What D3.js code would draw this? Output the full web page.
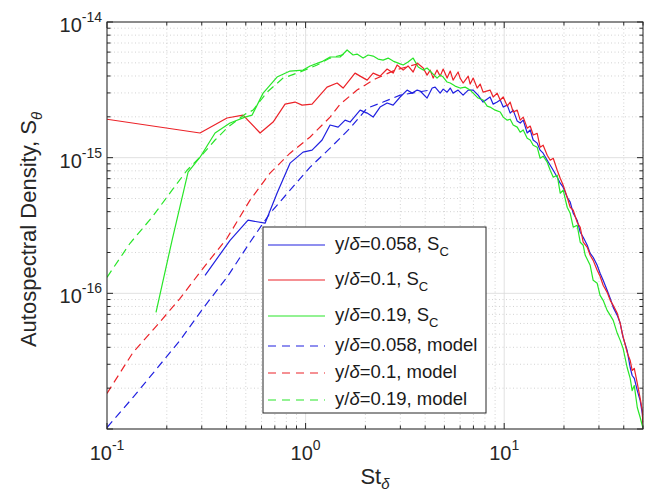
<!DOCTYPE html>
<html>
<head>
<meta charset="utf-8">
<script src="https://cdn.jsdelivr.net/npm/d3@7"></script>
<style>
  html, body { margin: 0; padding: 0; background: #fff; }
  svg { display: block; font-family: "Liberation Sans", Arial, sans-serif; }
</style>
</head>
<body>
<svg id="chart" width="652" height="493"></svg>
<script>
// Autospectral density vs Strouhal number, log-log.
// S values are stored in units of 1e-15.
const UNIT = 1e-15;

// measured spectra, y/delta = 0.058, 0.1, 0.19  [St, S]
const sc058 = [[0.3117,0.1358],[0.4165,0.246],[0.513,0.346],[0.625,0.329],[0.718,0.547],[0.835,0.911],[0.971,1.098],[1.078,1.136],[1.211,1.35],[1.328,1.74],[1.458,1.68],[1.581,1.89],[1.675,1.83],[1.882,2.24],[2.042,2.13],[2.188,1.99],[2.371,2.36],[2.574,2.53],[2.759,2.44],[2.993,2.80],[3.245,3.15],[3.44,2.99],[3.646,3.15],[3.775,3.10],[4.09,2.75],[4.34,3.26],[4.49,3.31],[4.76,2.99],[4.93,3.20],[5.16,3.04],[5.35,3.26],[5.53,2.99],[5.86,3.15],[6.21,2.89],[6.59,3.15],[6.98,3.15],[7.39,2.89],[7.83,2.57],[8.49,2.80],[8.80,2.48],[9.22,2.57],[9.55,2.66],[9.89,2.36],[10.36,2.44],[10.72,2.13],[11.1,2.24],[11.63,1.86],[12.04,1.80],[12.47,1.89],[13.06,1.52],[13.52,1.60],[14.0,1.35],[14.66,1.28],[15.17,1.136],[15.71,1.079],[16.47,0.958],[17.05,0.880],[17.66,0.808],[18.49,0.718],[19.15,0.648],[19.82,0.606],[20.76,0.511],[21.5,0.470],[22.27,0.389],[23.3,0.346],[24.15,0.282],[25.0,0.259],[26.2,0.226],[27.1,0.197],[28.06,0.1845],[29.4,0.161],[30.4,0.1406],[31.5,0.1248],[33.0,0.1052],[34.2,0.0918],[35.4,0.0788],[37.1,0.0688],[38.4,0.0601],[39.7,0.0473],[41.6,0.0380],[43.1,0.0284],[44.1,0.0248],[45.2,0.0236],[46.8,0.0192],[48.4,0.0162],[49.6,0.0130],[50.0,0.0110]];

const sc010 = [[0.1,1.92],[0.294,1.52],[0.402,1.96],[0.484,2.06],[0.59,1.52],[0.686,1.83],[0.788,2.48],[0.885,2.57],[0.96,2.44],[1.078,2.48],[1.282,3.31],[1.441,3.55],[1.545,3.26],[1.774,4.20],[1.882,3.99],[2.042,3.73],[2.188,4.20],[2.371,3.99],[2.574,4.50],[2.759,4.20],[2.89,4.82],[3.1,4.42],[3.28,4.74],[3.48,4.28],[3.646,4.98],[3.91,4.58],[4.09,4.06],[4.24,4.42],[4.39,3.86],[4.59,4.42],[4.76,3.99],[4.93,4.50],[5.16,3.86],[5.35,4.35],[5.53,3.73],[5.86,4.28],[6.0,3.86],[6.21,3.55],[6.59,3.99],[6.74,3.49],[6.98,3.86],[7.31,3.26],[7.57,3.49],[7.83,3.04],[8.49,3.15],[8.8,2.80],[9.22,2.99],[9.55,2.66],[9.89,2.80],[10.36,2.40],[10.72,2.57],[11.1,2.17],[11.63,2.24],[12.04,1.89],[12.47,1.99],[13.06,1.65],[13.52,1.71],[14.0,1.47],[14.66,1.51],[15.17,1.195],[15.71,1.236],[16.47,1.043],[17.05,0.958],[17.66,0.99],[18.49,0.808],[19.15,0.706],[19.82,0.627],[20.76,0.511],[21.5,0.431],[22.27,0.410],[23.3,0.334],[24.15,0.307],[25.0,0.238],[26.2,0.2185],[27.1,0.1907],[28.06,0.175],[29.4,0.148],[30.4,0.1335],[31.5,0.1146],[33.0,0.1017],[34.2,0.0888],[35.4,0.0815],[37.1,0.0712],[38.4,0.0601],[39.3,0.0507],[41.6,0.0367],[43.1,0.032],[44.1,0.027],[45.2,0.028],[46.8,0.0217],[48.4,0.0168],[49.6,0.0137],[50.0,0.0103]];

const sc019 = [[0.1765,0.0724],[0.2126,0.246],[0.256,0.781],[0.294,1.008],[0.350,1.52],[0.4165,1.80],[0.4955,1.99],[0.538,2.06],[0.611,2.99],[0.718,3.93],[0.835,4.35],[0.971,4.42],[1.054,4.74],[1.225,5.15],[1.328,5.52],[1.493,5.52],[1.618,6.22],[1.734,5.71],[1.816,5.80],[1.948,5.42],[2.065,5.71],[2.188,5.61],[2.318,5.33],[2.457,5.24],[2.604,5.42],[2.759,5.15],[2.925,4.98],[3.1,4.82],[3.28,5.07],[3.48,5.42],[3.69,4.66],[3.91,4.42],[4.09,4.58],[4.34,4.20],[4.59,3.86],[4.76,4.06],[4.93,3.93],[5.16,3.61],[5.35,3.55],[5.66,3.37],[6.0,3.26],[6.36,3.31],[6.74,3.15],[7.14,2.89],[7.39,2.75],[7.83,2.66],[8.21,2.40],[8.49,2.36],[9.01,2.24],[9.55,2.17],[9.89,1.99],[10.36,1.89],[10.72,1.92],[11.1,1.74],[11.63,1.68],[12.04,1.54],[12.47,1.60],[13.06,1.39],[13.52,1.35],[14.0,1.236],[14.66,1.195],[15.17,0.99],[15.71,1.026],[16.47,0.926],[17.05,0.808],[17.66,0.718],[18.49,0.743],[19.15,0.547],[19.82,0.576],[20.76,0.431],[21.5,0.389],[22.27,0.307],[23.3,0.318],[24.15,0.238],[25.0,0.226],[25.6,0.1907],[27.1,0.161],[28.06,0.1248],[29.4,0.1186],[30.4,0.0966],[31.5,0.0888],[33.0,0.0749],[34.2,0.0688],[35.4,0.0632],[37.1,0.0507],[38.4,0.045],[39.7,0.0393],[41.6,0.0284],[43.1,0.0236],[44.1,0.0192],[45.2,0.0209],[46.8,0.0144],[48.4,0.01216],[49.6,0.0106],[50.0,0.0101]];

// model spectra  [St, S]
const model058 = [[0.1,0.01026],[0.1352,0.0171],[0.1786,0.0280],[0.2333,0.045],[0.3045,0.0775],[0.402,0.1313],[0.525,0.238],[0.662,0.389],[0.835,0.576],[1.054,0.851],[1.328,1.175],[1.675,1.65],[2.042,2.32],[2.457,2.57],[2.993,2.89],[3.646,3.04],[4.24,3.15]];
const model010 = [[0.1,0.0183],[0.1352,0.0367],[0.1786,0.0581],[0.2333,0.0918],[0.3045,0.1529],[0.402,0.2547],[0.525,0.486],[0.662,0.769],[0.835,1.079],[1.054,1.42],[1.328,1.99],[1.493,2.48],[1.816,3.15],[2.239,3.80],[2.825,4.42],[3.646,4.90]];
const model019 = [[0.1,0.1313],[0.1306,0.234],[0.1686,0.364],[0.2126,0.576],[0.253,0.808],[0.294,1.008],[0.350,1.35],[0.407,1.68],[0.4955,2.09],[0.544,2.24],[0.640,3.04],[0.770,3.86],[0.938,4.28],[1.143,4.82],[1.328,5.42],[1.581,5.80]];

const seriesLabels = ['0.058', '0.1', '0.19'];
const seriesColors = ['#2020e0', '#ec2228', '#28e628'];

const box = { left: 107, top: 22, right: 643, bottom: 429 };

const svg = d3.select('#chart');

const x = d3.scaleLog().domain([0.1, 50]).range([box.left, box.right]);
const y = d3.scaleLog().domain([1e-17, 1e-14]).range([box.bottom, box.top]);

const isDecade = v => Math.abs(Math.log10(v) - Math.round(Math.log10(v))) < 1e-6;
const xTicks = x.ticks();
const yTicks = y.ticks();

// — grid ———————————————————————————————————
const grid = svg.append('g');
grid.selectAll('.gx').data(xTicks).join('line')
  .attr('x1', d => x(d)).attr('x2', d => x(d))
  .attr('y1', box.top).attr('y2', box.bottom)
  .attr('stroke', d => isDecade(d) ? '#d9d9d9' : '#c8c8c8')
  .attr('stroke-width', 0.8)
  .attr('stroke-dasharray', d => isDecade(d) ? null : '1,2.5');
grid.selectAll('.gy').data(yTicks).join('line')
  .attr('y1', d => y(d)).attr('y2', d => y(d))
  .attr('x1', box.left).attr('x2', box.right)
  .attr('stroke', d => isDecade(d) ? '#d9d9d9' : '#c8c8c8')
  .attr('stroke-width', 0.8)
  .attr('stroke-dasharray', d => isDecade(d) ? null : '1,2.5');

// — curves ——————————————————————————————————
svg.append('clipPath').attr('id', 'plotclip')
  .append('rect')
  .attr('x', box.left).attr('y', box.top)
  .attr('width', box.right - box.left).attr('height', box.bottom - box.top);

const line = d3.line()
  .x(d => x(d[0]))
  .y(d => y(d[1] * UNIT));

const curves = svg.append('g').attr('clip-path', 'url(#plotclip)');
[sc058, sc010, sc019].forEach((s, i) => {
  curves.append('path').datum(s)
    .attr('d', line)
    .attr('fill', 'none')
    .attr('stroke', seriesColors[i])
    .attr('stroke-width', 1.2)
    .attr('stroke-linejoin', 'round');
});
[model058, model010, model019].forEach((s, i) => {
  curves.append('path').datum(s)
    .attr('d', line)
    .attr('fill', 'none')
    .attr('stroke', seriesColors[i])
    .attr('stroke-width', 1.2)
    .attr('stroke-dasharray', '8,5');
});

// — ticks (inside, all four sides) ———————————————
const ticks = svg.append('g').attr('stroke', '#262626').attr('stroke-width', 1);
const tlen = d => isDecade(d) ? 6 : 3.5;
xTicks.forEach(d => {
  ticks.append('line').attr('x1', x(d)).attr('x2', x(d)).attr('y1', box.bottom).attr('y2', box.bottom - tlen(d));
  ticks.append('line').attr('x1', x(d)).attr('x2', x(d)).attr('y1', box.top).attr('y2', box.top + tlen(d));
});
yTicks.forEach(d => {
  ticks.append('line').attr('y1', y(d)).attr('y2', y(d)).attr('x1', box.left).attr('x2', box.left + tlen(d));
  ticks.append('line').attr('y1', y(d)).attr('y2', y(d)).attr('x1', box.right).attr('x2', box.right - tlen(d));
});

svg.append('rect')
  .attr('x', box.left).attr('y', box.top)
  .attr('width', box.right - box.left).attr('height', box.bottom - box.top)
  .attr('fill', 'none').attr('stroke', '#262626').attr('stroke-width', 1);

// — tick labels ————————————————————————————————
const xl = svg.append('g').attr('fill', '#262626');
xTicks.filter(isDecade).forEach(d => {
  const t = xl.append('text')
    .attr('x', x(d)).attr('y', box.bottom + 31)
    .attr('text-anchor', 'middle')
    .attr('font-size', 20);
  t.append('tspan').text('10');
  t.append('tspan').attr('dy', -10).attr('font-size', 14).text(Math.round(Math.log10(d)));
});
yTicks.filter(d => isDecade(d) && Math.round(Math.log10(d)) > -17).forEach(d => {
  const t = xl.append('text')
    .attr('x', box.left - 5).attr('y', y(d) + 10)
    .attr('text-anchor', 'end')
    .attr('font-size', 20);
  t.append('tspan').text('10');
  t.append('tspan').attr('dy', -10).attr('font-size', 14).text(Math.round(Math.log10(d)));
});

// — axis labels ————————————————————————————————
const xlab = svg.append('text')
  .attr('x', (box.left + box.right) / 2).attr('y', 484)
  .attr('text-anchor', 'middle').attr('font-size', 22).attr('fill', '#262626');
xlab.append('tspan').text('St');
xlab.append('tspan').attr('dy', 5).attr('font-size', 15).attr('font-style', 'italic').text('δ');

const ylab = svg.append('text')
  .attr('transform', `translate(36,${(box.top + box.bottom) / 2 + 4}) rotate(-90)`)
  .attr('text-anchor', 'middle').attr('font-size', 22).attr('fill', '#262626');
ylab.append('tspan').text('Autospectral Density, S');
ylab.append('tspan').attr('dy', 6).attr('font-size', 15).attr('font-style', 'italic').text('θ');

// — legend ————————————————————————————————————
const leg = svg.append('g');
leg.append('rect')
  .attr('x', 263).attr('y', 227).attr('width', 223).attr('height', 186)
  .attr('fill', '#fff').attr('stroke', '#262626').attr('stroke-width', 1);

const rowY = [245, 280, 316, 346, 373, 400];
const entries = [];
seriesLabels.forEach((lab, i) => entries.push({ lab, i, dashed: false }));
seriesLabels.forEach((lab, i) => entries.push({ lab, i, dashed: true }));

entries.forEach((e, k) => {
  const yy = rowY[k];
  leg.append('line')
    .attr('x1', 268).attr('x2', 325).attr('y1', yy).attr('y2', yy)
    .attr('stroke', seriesColors[e.i]).attr('stroke-width', 1.2)
    .attr('stroke-dasharray', e.dashed ? '8,6' : null);
  const t = leg.append('text')
    .attr('x', 335).attr('y', yy + 5)
    .attr('font-size', 18.5).attr('fill', '#1a1a1a');
  t.append('tspan').text('y/');
  t.append('tspan').attr('font-style', 'italic').text('δ');
  if (e.dashed) {
    t.append('tspan').text(`=${e.lab}, model`);
  } else {
    t.append('tspan').text(`=${e.lab}, S`);
    t.append('tspan').attr('dy', 6).attr('font-size', 13).text('C');
  }
});
</script>
</body>
</html>
